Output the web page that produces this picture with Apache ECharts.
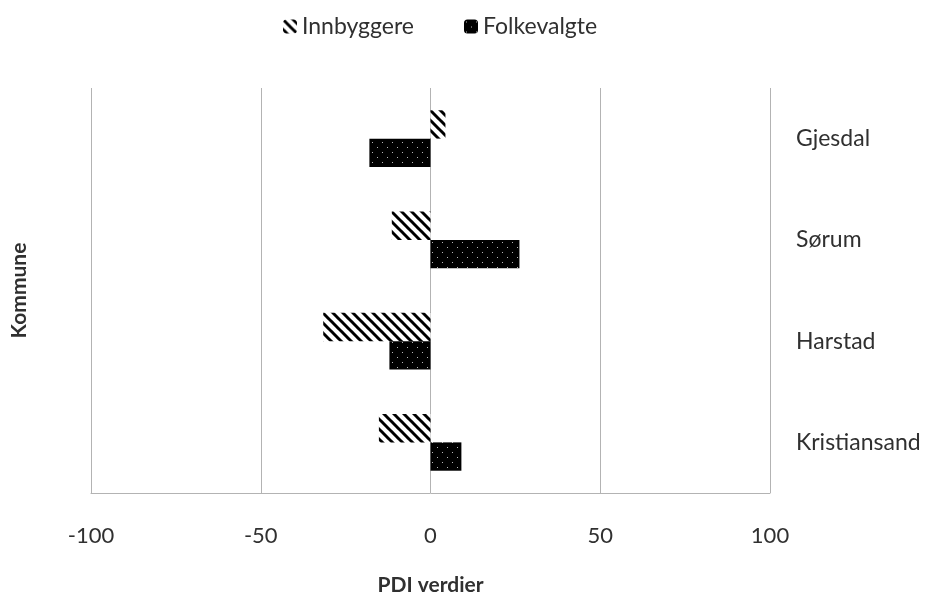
<!DOCTYPE html>
<html>
<head>
<meta charset="utf-8">
<script src="https://cdn.jsdelivr.net/npm/echarts@6/dist/echarts.min.js"></script>
<style>html,body{margin:0;padding:0;background:#fff}#c{width:927px;height:597px}</style>
</head>
<body>
<div id="c"></div>
<script>
const categories = ['Gjesdal', 'Sørum', 'Harstad', 'Kristiansand'];
const seriesNames = ['Innbyggere', 'Folkevalgte'];
const innbyggere = [4.4, -11.4, -31.6, -15.2];
const folkevalgte = [-18.0, 26.2, -12.1, 9.1];
const xTicks = [-100, -50, 0, 50, 100];

function stripePattern() {
  const c = document.createElement('canvas');
  c.width = 10; c.height = 10;
  const g = c.getContext('2d');
  g.fillStyle = '#fff'; g.fillRect(0, 0, 10, 10);
  g.strokeStyle = '#000'; g.lineWidth = 3;
  for (let k = -1; k <= 1; k++) {
    g.beginPath(); g.moveTo(k * 10 - 1, -1); g.lineTo(k * 10 + 11, 11); g.stroke();
  }
  return c;
}
function dotPattern() {
  const c = document.createElement('canvas');
  c.width = 10; c.height = 10;
  const g = c.getContext('2d');
  g.fillStyle = '#000'; g.fillRect(0, 0, 10, 10);
  g.fillStyle = '#b8b8b8';
  g.fillRect(2, 2, 1, 1);
  g.fillRect(7, 7, 1, 1);
  return c;
}

const FONT = 'Lato';
const TXT = '#303030';
const chart = echarts.init(document.getElementById('c'));
chart.setOption({
  animation: false,
  textStyle: { fontFamily: FONT },
  legend: {
    left: 278, top: 10,
    itemWidth: 14, itemHeight: 14, itemGap: 50,
    textStyle: { fontFamily: FONT, fontSize: 23, color: TXT },
    data: seriesNames
  },
  grid: { left: 91, right: 157, top: 88, bottom: 104, containLabel: false, outerBoundsMode: 'none' },
  xAxis: {
    type: 'value', min: xTicks[0], max: xTicks[xTicks.length - 1], interval: 50,
    name: 'PDI verdier', nameLocation: 'middle', nameGap: 82,
    nameTextStyle: { fontFamily: FONT, fontSize: 21, fontWeight: 'bold', color: TXT },
    axisLine: { show: true, onZero: false, lineStyle: { color: '#b3b3b3', width: 1 } },
    axisTick: { show: false },
    axisLabel: { margin: 32, fontFamily: FONT, fontSize: 22, color: TXT },
    splitLine: { show: true, lineStyle: { color: '#b3b3b3', width: 1 } }
  },
  yAxis: [{
    type: 'category', data: categories, inverse: true, position: 'right',
    axisLine: { show: false, onZero: false }, axisTick: { show: false },
    axisLabel: { align: 'left', margin: 26, fontFamily: FONT, fontSize: 23, color: TXT }
  }, {
    type: 'category', data: categories, inverse: true, position: 'left',
    name: 'Kommune', nameLocation: 'middle', nameGap: 61,
    nameTextStyle: { fontFamily: FONT, fontSize: 21, fontWeight: 'bold', color: TXT },
    axisLine: { show: false, onZero: false }, axisTick: { show: false }, axisLabel: { show: false }
  }],
  series: [{
    name: seriesNames[0], type: 'bar', data: innbyggere, yAxisIndex: 0,
    barGap: '0%', barCategoryGap: '44%',
    itemStyle: { color: { image: stripePattern(), repeat: 'repeat' } }
  }, {
    name: seriesNames[1], type: 'bar', data: folkevalgte, yAxisIndex: 0,
    barGap: '0%', barCategoryGap: '44%',
    itemStyle: { color: { image: dotPattern(), repeat: 'repeat' } }
  }]
});
</script>
</body>
</html>
